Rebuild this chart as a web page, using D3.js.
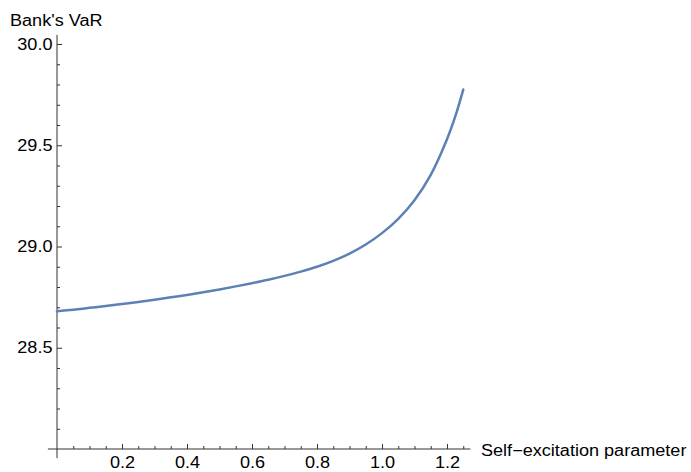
<!DOCTYPE html>
<html>
<head>
<meta charset="utf-8">
<script src="https://cdn.jsdelivr.net/npm/d3@7"></script>
<style>
  html, body { margin: 0; padding: 0; background: #fff; }
  svg { display: block; }
  text { font-family: "Liberation Sans", Arial, sans-serif; font-size: 16px; fill: #000; }
</style>
</head>
<body>
<svg id="chart" width="691" height="472"></svg>
<script>
// Data
const selfExcitation = [0, 0.05, 0.1, 0.15, 0.2, 0.25, 0.3, 0.35, 0.4, 0.45, 0.5, 0.55, 0.6, 0.65, 0.7, 0.75, 0.8, 0.85, 0.9, 0.95, 1.0, 1.05, 1.1, 1.15, 1.2, 1.225, 1.25];
const bankVaR = [28.680, 28.688, 28.697, 28.706, 28.716, 28.726, 28.737, 28.749, 28.761, 28.774, 28.788, 28.803, 28.819, 28.836, 28.855, 28.876, 28.900, 28.929, 28.965, 29.010, 29.066, 29.137, 29.229, 29.354, 29.530, 29.640, 29.775];
const xTickValues = [0.2, 0.4, 0.6, 0.8, 1.0, 1.2];
const xTickLabels = ["0.2", "0.4", "0.6", "0.8", "1.0", "1.2"];
const yTickValues = [28.5, 29.0, 29.5, 30.0];
const yTickLabels = ["28.5", "29.0", "29.5", "30.0"];
const xLabel = "Self\u2212excitation parameter";
const yLabel = "Bank's VaR";

const svg = d3.select("#chart");
const x = d3.scaleLinear().domain([0, 1.2]).range([57, 447]);
const y = d3.scaleLinear().domain([28.0, 30.0]).range([449, 44]);
const axisColor = "#333";
const sx = 1.13;

// axis lines
svg.append("line").attr("x1", x(-0.028)).attr("x2", x(1.272))
  .attr("y1", y(28.0)).attr("y2", y(28.0)).attr("stroke", axisColor).attr("stroke-width", 1);
svg.append("line").attr("x1", x(0)).attr("x2", x(0))
  .attr("y1", y(30.045)).attr("y2", y(27.955)).attr("stroke", axisColor).attr("stroke-width", 1);

// minor ticks
const xMinor = d3.range(1, 26).map(i => i * 0.05).filter(v => Math.abs(v * 5 - Math.round(v * 5)) > 1e-6);
const yMinor = d3.range(1, 21).map(i => 28 + i * 0.1).filter(v => Math.abs(v * 2 - Math.round(v * 2)) > 1e-6);

svg.append("g").attr("transform", `translate(0,${y(28.0)})`)
  .call(d3.axisBottom(x).tickValues(xMinor).tickSizeInner(-3).tickSizeOuter(0).tickFormat(""))
  .call(g => g.select(".domain").remove())
  .call(g => g.selectAll("line").attr("stroke", axisColor));
svg.append("g").attr("transform", `translate(${x(0)},0)`)
  .call(d3.axisLeft(y).tickValues(yMinor).tickSizeInner(-3).tickSizeOuter(0).tickFormat(""))
  .call(g => g.select(".domain").remove())
  .call(g => g.selectAll("line").attr("stroke", axisColor));

// major ticks with labels
svg.append("g").attr("transform", `translate(0,${y(28.0)})`)
  .call(d3.axisBottom(x).tickValues(xTickValues).tickSizeInner(-5).tickSizeOuter(0).tickPadding(8)
    .tickFormat((d, i) => xTickLabels[i]))
  .call(g => g.select(".domain").remove())
  .call(g => g.selectAll("line").attr("stroke", axisColor))
  .call(g => g.selectAll("text").attr("font-size", 16).attr("font-family", "Liberation Sans, Arial, sans-serif")
    .attr("fill", "#000").attr("transform", `scale(${sx},1)`));
svg.append("g").attr("transform", `translate(${x(0)},0)`)
  .call(d3.axisLeft(y).tickValues(yTickValues).tickSizeInner(-5).tickSizeOuter(0).tickPadding(4)
    .tickFormat((d, i) => yTickLabels[i]))
  .call(g => g.select(".domain").remove())
  .call(g => g.selectAll("line").attr("stroke", axisColor))
  .call(g => g.selectAll("text").attr("font-size", 16).attr("font-family", "Liberation Sans, Arial, sans-serif")
    .attr("fill", "#000").attr("transform", `scale(${sx},1)`));

// axis labels
svg.append("text").attr("transform", `translate(481,456) scale(${sx},1)`).text(xLabel);
svg.append("text").attr("transform", `translate(10,26) scale(${sx},1)`).text(yLabel);

// curve
const line = d3.line().x((d, i) => x(selfExcitation[i])).y(d => y(d)).curve(d3.curveCatmullRom.alpha(0.5));
svg.append("path").datum(bankVaR).attr("d", line)
  .attr("fill", "none").attr("stroke", "#5E81B5").attr("stroke-width", 2.5).attr("stroke-linecap", "round");
</script>
</body>
</html>
